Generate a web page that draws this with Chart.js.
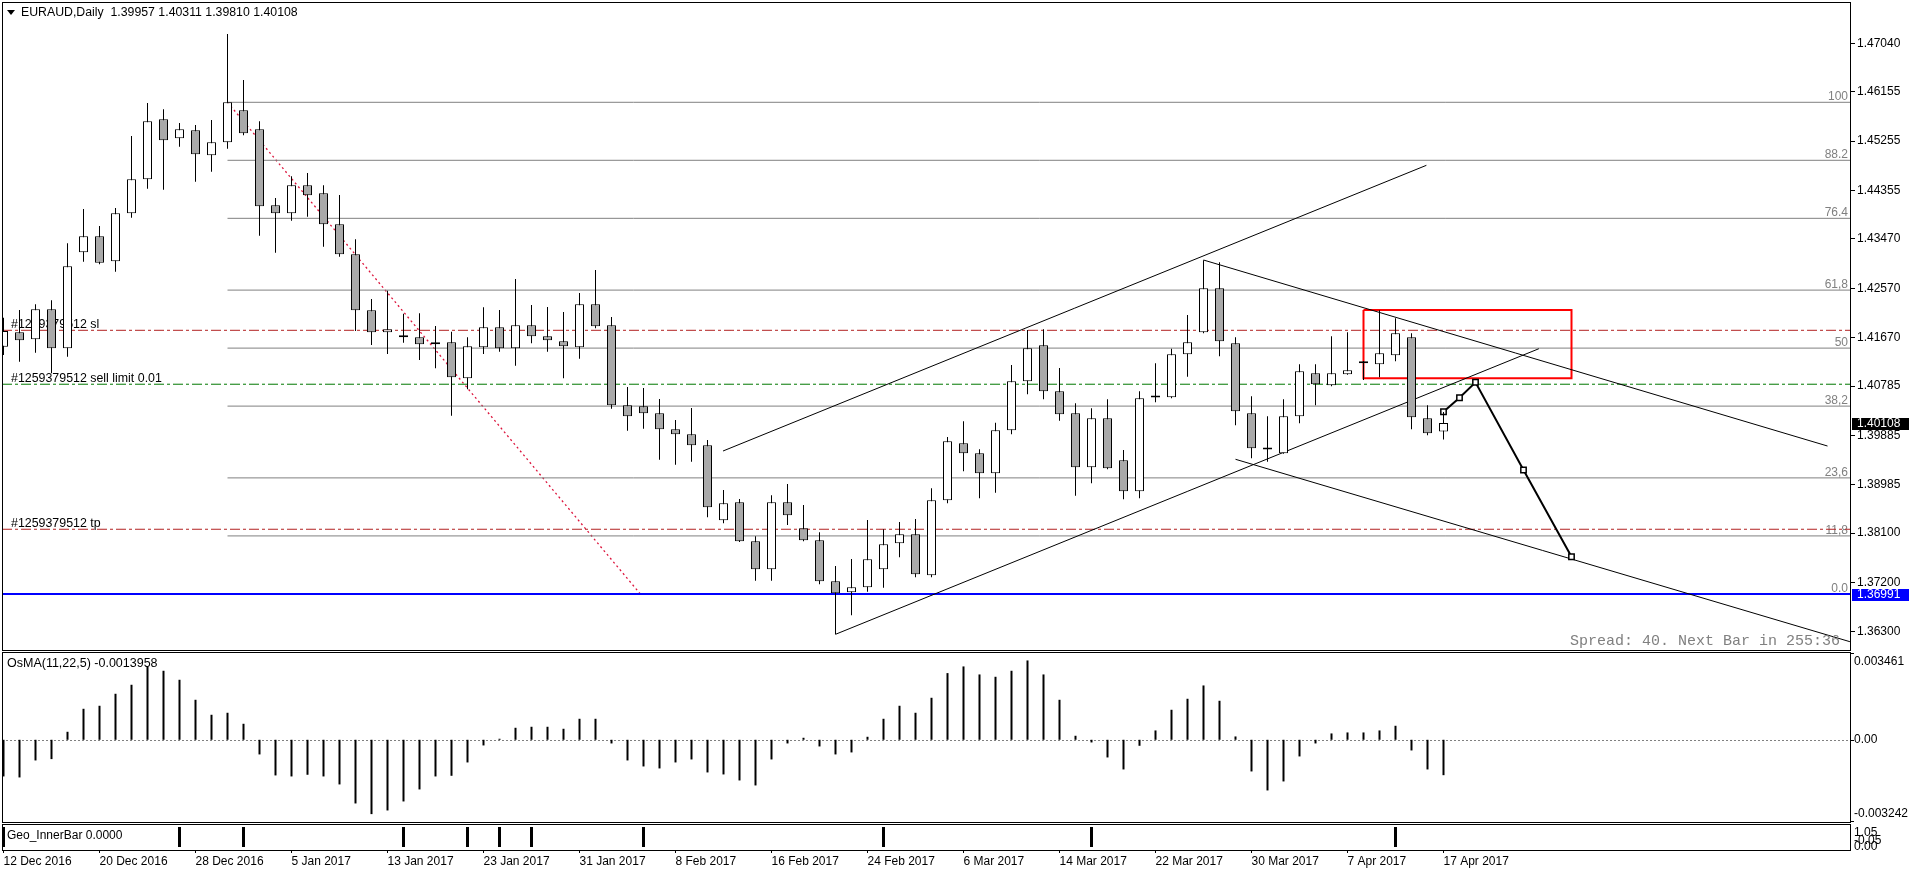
<!DOCTYPE html>
<html>
<head>
<meta charset="utf-8">
<title>EURAUD Daily</title>
<script src="https://cdn.jsdelivr.net/npm/chart.js@4.4.1/dist/chart.umd.min.js"></script>
<script>
// ---------- data ----------
const symbolTitle = 'EURAUD,Daily';
const spreadText = 'Spread: 40. Next Bar in 255:36';

const opens = [1.41503, 1.41766, 1.41638, 1.42185, 1.41474, 1.43226, 1.43518, 1.43061, 1.43937, 1.44558,
  1.45653, 1.45306, 1.45452, 1.44996, 1.45233, 1.45817, 1.45470, 1.44083, 1.43937, 1.44448,
  1.44302, 1.43737, 1.43189, 1.42167, 1.41766, 1.41711, 1.41674, 1.41547, 1.41583, 1.40926,
  1.41492, 1.41857, 1.41474, 1.41893, 1.41693, 1.41601, 1.41492, 1.42277, 1.41893, 1.40433,
  1.40415, 1.40287, 1.39995, 1.39904, 1.39703, 1.38335, 1.38663, 1.37951, 1.37440, 1.38663,
  1.38189, 1.37970, 1.37221, 1.37021, 1.37112, 1.37440, 1.37915, 1.38079, 1.37331, 1.38700,
  1.39740, 1.39557, 1.39192, 1.39977, 1.40871, 1.41528, 1.40689, 1.40287, 1.39302, 1.40196,
  1.39430, 1.38864, 1.40575, 1.40579, 1.41364, 1.41766, 1.42569, 1.41565, 1.40287, 1.39635,
  1.39557, 1.40233, 1.41017, 1.40798, 1.40999, 1.41200, 1.41182, 1.41346, 1.41674, 1.40196,
  1.39957];
const highs = [1.42032, 1.42173, 1.42277, 1.42350, 1.43390, 1.44016, 1.43706, 1.44034, 1.45348, 1.45950,
  1.45835, 1.45585, 1.45549, 1.45640, 1.47210, 1.46370, 1.45616, 1.44217, 1.44613, 1.44673,
  1.44448, 1.44271, 1.43463, 1.42373, 1.42525, 1.42105, 1.42112, 1.41881, 1.41776, 1.41674,
  1.42222, 1.42173, 1.42738, 1.42264, 1.42227, 1.42136, 1.42483, 1.42903, 1.42045, 1.40767,
  1.40749, 1.40548, 1.40165, 1.40384, 1.39800, 1.38888, 1.38723, 1.38043, 1.38791, 1.38997,
  1.38614, 1.38116, 1.37501, 1.37628, 1.38340, 1.38170, 1.38304, 1.38358, 1.38919, 1.39855,
  1.40141, 1.39630, 1.40116, 1.41169, 1.41808, 1.41820, 1.41114, 1.40470, 1.40379, 1.40543,
  1.39618, 1.40689, 1.41200, 1.41466, 1.42081, 1.43080, 1.43043, 1.41674, 1.40598, 1.40233,
  1.40543, 1.41182, 1.41182, 1.41693, 1.41766, 1.41242, 1.42167, 1.42021, 1.41747, 1.40433,
  1.40311];
const lows = [1.41351, 1.41229, 1.41393, 1.41017, 1.41320, 1.43054, 1.43007, 1.42872, 1.43857, 1.44386,
  1.44368, 1.45153, 1.44514, 1.44696, 1.45116, 1.45361, 1.43528, 1.43218, 1.43802, 1.43875,
  1.43328, 1.43145, 1.41789, 1.41534, 1.41370, 1.41576, 1.41260, 1.41109, 1.40243, 1.40725,
  1.41370, 1.41411, 1.41156, 1.41565, 1.41411, 1.40926, 1.41284, 1.41839, 1.40371, 1.39970,
  1.40006, 1.39440, 1.39349, 1.39404, 1.38389, 1.38280, 1.37940, 1.37232, 1.37232, 1.38249,
  1.37951, 1.37167, 1.36254, 1.36601, 1.37031, 1.37104, 1.37659, 1.37294, 1.37294, 1.38645,
  1.39229, 1.38736, 1.38838, 1.39904, 1.40634, 1.40543, 1.40152, 1.38783, 1.39010, 1.39265,
  1.38718, 1.38736, 1.40488, 1.40561, 1.40955, 1.41747, 1.41328, 1.40068, 1.39466, 1.39404,
  1.39550, 1.40105, 1.40433, 1.40780, 1.40990, 1.40895, 1.40944, 1.41236, 1.39995, 1.39886,
  1.39810];
const closes = [1.41789, 1.41620, 1.42185, 1.41474, 1.42970, 1.43518, 1.43036, 1.43937, 1.44558, 1.45616,
  1.45270, 1.45470, 1.45014, 1.45233, 1.45963, 1.45397, 1.44065, 1.43937, 1.44448, 1.44266,
  1.43737, 1.43189, 1.42167, 1.41766, 1.41820, 1.41674, 1.41547, 1.41583, 1.40944, 1.41510,
  1.41857, 1.41474, 1.41893, 1.41693, 1.41620, 1.41510, 1.42277, 1.41875, 1.40433, 1.40233,
  1.40287, 1.39995, 1.39904, 1.39703, 1.38572, 1.38645, 1.37951, 1.37440, 1.38663, 1.38426,
  1.37970, 1.37221, 1.37002, 1.37112, 1.37623, 1.37897, 1.38079, 1.37349, 1.38700, 1.39776,
  1.39557, 1.39192, 1.39977, 1.40871, 1.41474, 1.40689, 1.40269, 1.39302, 1.40196, 1.39284,
  1.38864, 1.40561, 1.40580, 1.41364, 1.41583, 1.42569, 1.41601, 1.40324, 1.39649, 1.39625,
  1.40233, 1.41054, 1.40817, 1.41017, 1.41072, 1.41236, 1.41382, 1.41747, 1.40214, 1.39922,
  1.40108];

const osmaValues = [-0.001446, -0.001485, -0.000815, -0.000762, 0.000315, 0.001222, 0.001341, 0.001814, 0.002169, 0.002892,
  0.002721, 0.002366, 0.001577, 0.000986, 0.001065, 0.000631, -0.000578, -0.001406, -0.001446, -0.001380,
  -0.001446, -0.001761, -0.002511, -0.002931, -0.002787, -0.002432, -0.001958, -0.001446, -0.001420, -0.000894,
  -0.000223, 0.000040, 0.000473, 0.000513, 0.000513, 0.000434, 0.000828, 0.000828, -0.000145, -0.000815,
  -0.001052, -0.001130, -0.000894, -0.000776, -0.001288, -0.001367, -0.001604, -0.001801, -0.000776, -0.000145,
  0.000079, -0.000263, -0.000578, -0.000499, 0.000118, 0.000828, 0.001341, 0.001065, 0.001656, 0.002629,
  0.002892, 0.002576, 0.002484, 0.002721, 0.003128, 0.002576, 0.001577, 0.000158, -0.000105, -0.000697,
  -0.001170, -0.000237, 0.000368, 0.001183, 0.001617, 0.002142, 0.001538, 0.000131, -0.001249, -0.001998,
  -0.001643, -0.000657, -0.000145, 0.000250, 0.000289, 0.000289, 0.000368, 0.000552, -0.000421, -0.001170,
  -0.0013958];
const osmaTitle = 'OsMA(11,22,5)';
const osmaMax = 0.003461;
const osmaMin = -0.003242;

const innerBarIdx = [0, 11, 15, 25, 29, 31, 33, 40, 55, 68, 87];
const geoTitle = 'Geo_InnerBar';
const geoValue = 0;
const geoAxisLabels = ['1.05', '-0.05', '0.00'];

const dateTickBars = [0, 6, 12, 18, 24, 30, 36, 42, 48, 54, 60, 66, 72, 78, 84, 90];
const dateTickLabels = ['12 Dec 2016', '20 Dec 2016', '28 Dec 2016', '5 Jan 2017', '13 Jan 2017', '23 Jan 2017',
  '31 Jan 2017', '8 Feb 2017', '16 Feb 2017', '24 Feb 2017', '6 Mar 2017', '14 Mar 2017', '22 Mar 2017',
  '30 Mar 2017', '7 Apr 2017', '17 Apr 2017'];

const priceTicks = [1.47040, 1.46155, 1.45255, 1.44355, 1.43470, 1.42570, 1.41670, 1.40785, 1.39885,
  1.38985, 1.38100, 1.37200, 1.36300];
const priceMin = 1.359675;
const priceMax = 1.477935;
const barMin = -0.09375;
const barMax = 115.46875;

const fibHigh = 1.45963;
const fibLow = 1.36991;
const fibBars = [14, 39.8];
const fibLevels = [0, 11.8, 23.6, 38.2, 50, 61.8, 76.4, 88.2, 100];
const fibLabels = ['0.0', '11,8', '23,6', '38,2', '50', '61,8', '76.4', '88.2', '100'];

const orderTexts = ['#1259379512 sl', '#1259379512 sell limit 0.01', '#1259379512 tp'];
const orderPrices = [1.41802, 1.40818, 1.38171];
const bluePrice = 1.36991;

const channelUpper = [{x: 44.97, y: 1.39599}, {x: 88.93, y: 1.44813}];
const channelLower = [{x: 52, y: 1.36254}, {x: 95.96, y: 1.41466}];
const fallTop = [{x: 75, y: 1.43085}, {x: 114, y: 1.39690}];
const fallBottom = [{x: 77, y: 1.39448}, {x: 115.4, y: 1.36119}];
const forecastPath = [{x: 90, y: 1.40316}, {x: 91, y: 1.40572}, {x: 92, y: 1.40853}, {x: 95, y: 1.39253}, {x: 98, y: 1.37670}];
const zoneBars = [85, 98];
const zonePrices = [1.40926, 1.42173];
</script>
<style>
html, body { margin: 0; padding: 0; background: #fff; }
#wrap { position: relative; width: 1910px; height: 874px; overflow: hidden; background: #fff; }
#wrap canvas { position: absolute; left: 0; display: block; }
</style>
</head>
<body>
<div id="wrap">
  <canvas id="cMain" width="1910" height="651" style="top:0px;width:1910px;height:651px"></canvas>
  <canvas id="cOsma" width="1910" height="172" style="top:651px;width:1910px;height:172px"></canvas>
  <canvas id="cGeo" width="1910" height="51" style="top:823px;width:1910px;height:51px"></canvas>
</div>
<script>
Chart.defaults.font.family = '"Liberation Sans", Arial, sans-serif';
Chart.defaults.font.size = 12;
Chart.defaults.color = '#000';
Chart.defaults.animation = false;
Chart.defaults.plugins.legend.display = false;
Chart.defaults.plugins.tooltip.enabled = false;

const FAM = '"Liberation Sans", Arial, sans-serif';
const FONT = '12px ' + FAM;
const n = opens.length - 1;
const idx = opens.map((_, i) => i);

function hiddenX() {
  return { type: 'linear', min: barMin, max: barMax, offset: false, display: false,
    grid: { display: false, offset: false } };
}
function sideY(min, max) {
  return { type: 'linear', position: 'right', min, max, beginAtZero: false,
    grid: { display: false }, border: { display: false }, ticks: { display: false },
    afterFit: s => { s.width = 59; s.paddingTop = 0; s.paddingBottom = 0; } };
}
function frame(ctx, a) {
  ctx.save();
  ctx.strokeStyle = '#000'; ctx.lineWidth = 1;
  ctx.strokeRect(a.left + 0.5, a.top + 0.5, a.right - a.left - 1, a.bottom - a.top);
  ctx.restore();
}
function lineDs(points, color, width, dash, order, extra) {
  return Object.assign({ type: 'line', data: points, borderColor: color, borderWidth: width,
    borderDash: dash || [], pointRadius: 0, fill: false, tension: 0, order: order,
    borderCapStyle: 'butt', borderJoinStyle: 'miter' }, extra || {});
}
function hLine(price, fromBar) {
  return [{ x: fromBar, y: price }, { x: barMax, y: price }];
}

// ---------- main price chart ----------
const overlays = [];
fibLevels.forEach(lv => {
  overlays.push(lineDs(hLine(fibLow + (fibHigh - fibLow) * lv / 100, fibBars[0]), '#808080', 1, [], 6));
});
overlays.push(lineDs([{ x: fibBars[0], y: fibHigh }, { x: fibBars[1], y: fibLow }], '#dc143c', 1.3, [2, 3], 6));
const orderColors = ['#b22222', '#007800', '#b22222'];
orderPrices.forEach((p, k) => overlays.push(lineDs(hLine(p, barMin), orderColors[k], 1, [10, 3, 3, 3], 5)));
overlays.push(lineDs(hLine(bluePrice, barMin), '#0000ff', 2, [], 5));
[channelUpper, channelLower, fallTop, fallBottom].forEach(pts => overlays.push(lineDs(pts, '#000', 1, [], 4)));
overlays.push(lineDs([
  { x: zoneBars[0], y: zonePrices[1] }, { x: zoneBars[1], y: zonePrices[1] },
  { x: zoneBars[1], y: zonePrices[0] }, { x: zoneBars[0], y: zonePrices[0] },
  { x: zoneBars[0], y: zonePrices[1] }], '#ff0000', 2, [], 4));
overlays.push(lineDs(forecastPath, '#000', 2, [], 3, {
  pointRadius: 3.8, pointStyle: 'rect', pointBackgroundColor: '#fff',
  pointBorderColor: '#000', pointBorderWidth: 1.5 }));

const wickDs = { type: 'bar', data: idx.map(i => ({ x: i, y: [lows[i], highs[i]] })),
  backgroundColor: '#000', borderWidth: 0, barThickness: 1, maxBarThickness: 1,
  grouped: false, inflateAmount: 0, order: 2 };
const bodyDs = { type: 'bar', data: idx.map(i => ({ x: i, y: [opens[i], closes[i]] })),
  backgroundColor: idx.map(i => closes[i] >= opens[i] ? '#ffffff' : '#a9a9a9'),
  borderColor: '#000', borderWidth: 1, borderSkipped: false, minBarLength: 2,
  barThickness: 9, maxBarThickness: 9, grouped: false, inflateAmount: 0, order: 1 };

const mainDecor = {
  id: 'mainDecor',
  beforeDatasetsDraw(chart) {
    const { ctx, chartArea: a } = chart; const y = chart.scales.y;
    ctx.save();
    ctx.font = FONT; ctx.textBaseline = 'alphabetic';
    ctx.fillStyle = '#808080'; ctx.textAlign = 'right';
    fibLevels.forEach((lv, k) => {
      const py = y.getPixelForValue(fibLow + (fibHigh - fibLow) * lv / 100);
      ctx.fillText(fibLabels[k], a.right - 3, py - 2);
    });
    ctx.font = '12.4px ' + FAM;
    ctx.fillStyle = '#000'; ctx.textAlign = 'left';
    orderTexts.forEach((t, k) => ctx.fillText(t, a.left + 9, y.getPixelForValue(orderPrices[k]) - 2.5));
    ctx.restore();
  },
  afterDraw(chart) {
    const { ctx, chartArea: a } = chart; const y = chart.scales.y;
    frame(ctx, a);
    ctx.save();
    // header
    ctx.fillStyle = '#000';
    ctx.beginPath(); ctx.moveTo(a.left + 5, 10); ctx.lineTo(a.left + 13, 10); ctx.lineTo(a.left + 9, 15); ctx.closePath(); ctx.fill();
    ctx.font = '12.3px ' + FAM; ctx.textAlign = 'left'; ctx.textBaseline = 'middle';
    const ohlc = [opens[n], highs[n], lows[n], closes[n]].map(v => v.toFixed(5)).join(' ');
    ctx.fillText(symbolTitle + '  ' + ohlc, a.left + 19, a.top + 11);
    // spread info
    ctx.font = '15px "Liberation Mono", monospace'; ctx.fillStyle = '#808080';
    ctx.textAlign = 'right'; ctx.textBaseline = 'alphabetic';
    ctx.fillText(spreadText, a.right - 11, a.bottom - 5);
    // price boxes
    const box = (price, bg) => {
      const py = y.getPixelForValue(price);
      ctx.fillStyle = bg; ctx.fillRect(a.right + 1, Math.round(py) - 5, 57, 12);
      ctx.fillStyle = '#fff'; ctx.font = FONT; ctx.textAlign = 'left'; ctx.textBaseline = 'middle';
      ctx.fillText(price.toFixed(5), a.right + 6, py + 1);
    };
    box(closes[n], '#000');
    box(bluePrice, '#0000ff');
    ctx.restore();
  }
};

new Chart(document.getElementById('cMain'), {
  type: 'bar',
  data: { datasets: overlays.concat([wickDs, bodyDs]) },
  options: {
    responsive: false, maintainAspectRatio: false, devicePixelRatio: 1, events: [],
    layout: { autoPadding: false, padding: { left: 2, top: 2, right: 0, bottom: 1 } },
    scales: {
      x: hiddenX(),
      y: { type: 'linear', position: 'right', min: priceMin, max: priceMax, beginAtZero: false,
        grid: { drawOnChartArea: false, drawTicks: true, tickLength: 4, color: '#000' },
        border: { display: false },
        ticks: { autoSkip: false, padding: 2, color: '#000', font: { size: 12 },
          callback: v => Number(v).toFixed(5) },
        afterBuildTicks: s => { s.ticks = priceTicks.map(v => ({ value: v })); },
        afterFit: s => { s.width = 59; s.paddingTop = 0; s.paddingBottom = 0; } }
    }
  },
  plugins: [mainDecor]
});

// ---------- OsMA panel ----------
const osmaDecor = {
  id: 'osmaDecor',
  beforeDatasetsDraw(chart) {
    const { ctx, chartArea: a } = chart; const y = chart.scales.y;
    const z = Math.round(y.getPixelForValue(0)) + 0.5;
    ctx.save(); ctx.strokeStyle = '#808080'; ctx.lineWidth = 1; ctx.setLineDash([2, 2]);
    ctx.beginPath(); ctx.moveTo(a.left, z); ctx.lineTo(a.right, z); ctx.stroke(); ctx.restore();
  },
  afterDraw(chart) {
    const { ctx, chartArea: a } = chart; const y = chart.scales.y;
    frame(ctx, a);
    ctx.save();
    ctx.font = '12.5px ' + FAM; ctx.fillStyle = '#000'; ctx.textAlign = 'left'; ctx.textBaseline = 'middle';
    ctx.fillText(osmaTitle + ' ' + osmaValues[n].toFixed(7), a.left + 5, a.top + 12);
    ctx.font = FONT;
    const x0 = a.right + 3;
    ctx.fillText(osmaMax.toFixed(6), x0, a.top + 10);
    ctx.fillText((0).toFixed(2), x0, y.getPixelForValue(0));
    ctx.fillText(osmaMin.toFixed(6), x0, a.bottom - 8);
    ctx.strokeStyle = '#000'; ctx.lineWidth = 1; ctx.beginPath();
    [a.top + 1.5, Math.round(y.getPixelForValue(0)) + 0.5, a.bottom - 0.5].forEach(py => {
      ctx.moveTo(a.right, py); ctx.lineTo(a.right + 3, py);
    });
    ctx.stroke();
    ctx.restore();
  }
};
new Chart(document.getElementById('cOsma'), {
  type: 'bar',
  data: { datasets: [{ data: osmaValues.map((v, i) => ({ x: i, y: v })), backgroundColor: '#000',
    borderWidth: 0, barThickness: 2, maxBarThickness: 2, grouped: false, inflateAmount: 0 }] },
  options: {
    responsive: false, maintainAspectRatio: false, devicePixelRatio: 1, events: [],
    layout: { autoPadding: false, padding: { left: 2, top: 1, right: 0, bottom: 1 } },
    scales: { x: hiddenX(), y: sideY(osmaMin, osmaMax) }
  },
  plugins: [osmaDecor]
});

// ---------- Geo_InnerBar panel with date axis ----------
const geoDecor = {
  id: 'geoDecor',
  afterDraw(chart) {
    const { ctx, chartArea: a } = chart;
    frame(ctx, a);
    ctx.save();
    ctx.font = FONT; ctx.fillStyle = '#000'; ctx.textAlign = 'left'; ctx.textBaseline = 'middle';
    ctx.fillText(geoTitle + ' ' + geoValue.toFixed(4), a.left + 5, a.top + 12);
    ctx.beginPath(); ctx.rect(a.right + 1, a.top, 60, a.bottom - a.top); ctx.clip();
    const offs = [8.5, 16.5, 22.5];
    geoAxisLabels.forEach((t, k) => ctx.fillText(t, a.right + 3, a.top + offs[k]));
    ctx.restore();
  }
};
new Chart(document.getElementById('cGeo'), {
  type: 'bar',
  data: { datasets: [{ data: innerBarIdx.map(i => ({ x: i, y: 1 })), backgroundColor: '#000',
    borderWidth: 0, barThickness: 3, maxBarThickness: 3, grouped: false, inflateAmount: 0 }] },
  options: {
    responsive: false, maintainAspectRatio: false, devicePixelRatio: 1, events: [],
    layout: { autoPadding: false, padding: { left: 2, top: 1, right: 0, bottom: 0 } },
    scales: {
      x: { type: 'linear', min: barMin, max: barMax, offset: false, position: 'bottom',
        grid: { drawOnChartArea: false, drawTicks: true, tickLength: 3, color: '#000', offset: false },
        border: { display: false },
        ticks: { autoSkip: false, maxRotation: 0, minRotation: 0, align: 'start', padding: 1,
          color: '#000', font: { size: 12 },
          callback: v => { const k = dateTickBars.indexOf(v); return k >= 0 ? dateTickLabels[k] : ''; } },
        afterBuildTicks: s => { s.ticks = dateTickBars.map(v => ({ value: v })); },
        afterFit: s => { s.height = 24; s.paddingLeft = 0; s.paddingRight = 0; } },
      y: sideY(-0.15, 1.15)
    }
  },
  plugins: [geoDecor]
});
</script>
</body>
</html>
